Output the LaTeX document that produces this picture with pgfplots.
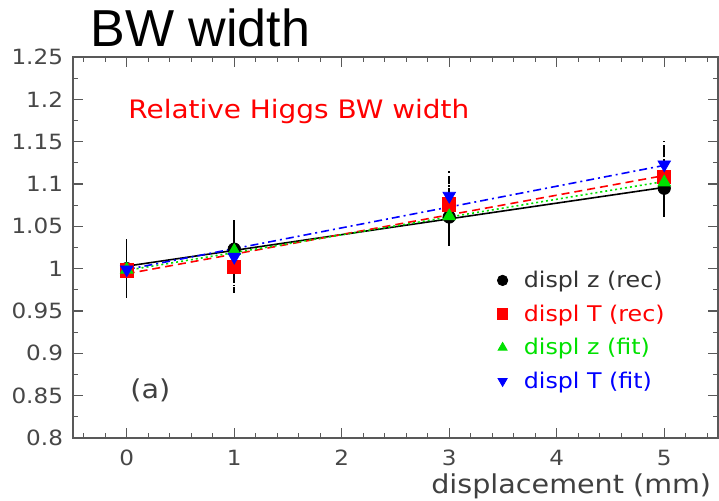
\documentclass[border=0pt]{standalone}
\usepackage{fontspec}
\setmainfont{DejaVu Sans}[FakeStretch=1.1]
\newfontfamily\arial{Liberation Sans}
\usepackage{pgfplots}
\pgfplotsset{compat=1.18}
\definecolor{frm}{gray}{0.35}
\definecolor{pawred}{RGB}{255,0,0}
\definecolor{pawgreen}{RGB}{0,225,0}
\definecolor{pawblue}{RGB}{0,0,255}

\begin{document}
\begin{tikzpicture}
\useasboundingbox (-36.5bp,-31.5bp) rectangle (323bp,219bp);
\begin{axis}[
  at={(0,0)}, anchor=south west,
  scale only axis, width=322.5bp, height=190.5bp,
  xmin=-0.5, xmax=5.5, ymin=0.8, ymax=1.25,
  xtick={0,1,2,3,4,5},
  minor xtick={-0.4,-0.2,0.2,0.4,0.6,0.8,1.2,1.4,1.6,1.8,2.2,2.4,2.6,2.8,3.2,3.4,3.6,3.8,4.2,4.4,4.6,4.8,5.2,5.4},
  ytick={0.8,0.85,0.9,0.95,1,1.05,1.1,1.15,1.2,1.25},
  minor y tick num=1,
  axis line style={frm, line width=0.75bp},
  every tick/.style={frm, line width=0.6bp},
  major tick length=5bp, minor tick length=2.5bp,
  tick label style={font=\fontsize{10.5bp}{12bp}\selectfont, text=black!72},
  /pgf/number format/assume math mode=true,
  yticklabel style={/pgf/number format/fixed, /pgf/number format/precision=2, xshift=-1.5bp},
  xticklabel style={yshift=-2.5bp},
  xlabel={displacement (mm)},
  xlabel style={at={(axis description cs:0.99,0)}, anchor=base east, yshift=-27.5bp,
    inner sep=0pt, font=\fontsize{13bp}{15bp}\selectfont, text=black!75},
  legend style={draw=none, fill=none, at={(0.6574,0.4383)}, anchor=north west,
    inner sep=0pt, row sep=5.8bp, column sep=8bp,
    font=\fontsize{10.8bp}{12bp}\selectfont,
    nodes={inner sep=0pt, text height=8bp, text depth=3bp}},
  legend cell align=left,
  legend image code/.code={\draw[mark repeat=2,mark phase=2,#1]
    plot coordinates {(0bp,1bp) (5bp,1bp) (10bp,1bp)};},
  legend image post style={mark size=2.6bp},
]
% fitted lines
\addplot[black, line width=0.8bp, forget plot] coordinates {(0,1.003) (5,1.096)};
\addplot[pawred, line width=0.8bp, dash pattern=on 4bp off 2.5bp, forget plot] coordinates {(0,0.994) (5,1.110)};
\addplot[pawgreen, line width=0.8bp, dash pattern=on 1bp off 1.5bp, forget plot] coordinates {(0,0.998) (5,1.103)};
\addplot[pawblue, line width=0.8bp, dash pattern=on 4bp off 2bp on 1bp off 2bp, forget plot] coordinates {(0,0.999) (5,1.122)};

% measured points
\addplot[black, only marks, mark=*, mark size=3.1bp,
  error bars/.cd, y dir=both, y explicit, error mark=none,
  error bar style={black, solid, line width=0.75bp}] coordinates {
  (0,1.000) +- (0,0.035)
  (1,1.023) +- (0,0.035)
  (3,1.061) +- (0,0.034)
  (5,1.095) +- (0,0.034)};
\addlegendentry{\textcolor{black!80}{displ z (rec)}}
\addplot[pawred, only marks, mark=square*, mark size=3.3bp,
  error bars/.cd, y dir=both, y explicit, error mark=none,
  error bar style={black, line width=0.75bp, dash pattern=on 3bp off 2bp}] coordinates {
  (0,0.998) +- (0,0.033)
  (1,1.002) +- (0,0.035)
  (3,1.076) +- (0,0.034)
  (5,1.108) +- (0,0.034)};
\addlegendentry{\textcolor{pawred}{displ T (rec)}}
\addplot[pawgreen, only marks, mark=triangle*, mark size=3.6bp,
  error bars/.cd, y dir=both, y explicit, error mark=none,
  error bar style={black, line width=0.75bp, dash pattern=on 1bp off 1.5bp}] coordinates {
  (0,0.999) +- (0,0.033)
  (1,1.021) +- (0,0.035)
  (3,1.062) +- (0,0.033)
  (5,1.102) +- (0,0.034)};
\addlegendentry{\textcolor{pawgreen}{displ z (fit)}}
\addplot[pawblue, only marks, mark=triangle*, mark options={rotate=180}, mark size=3.6bp,
  error bars/.cd, y dir=both, y explicit, error mark=none,
  error bar style={black, line width=0.75bp, dash pattern=on 3bp off 1.5bp on 1bp off 1.5bp}] coordinates {
  (0,0.999) +- (0,0.033)
  (1,1.014) +- (0,0.035)
  (3,1.086) +- (0,0.030)
  (5,1.123) +- (0,0.028)};
\addlegendentry{\textcolor{pawblue}{displ T (fit)}}
\end{axis}
\node[anchor=base west, inner sep=0pt, font=\arial\fontsize{26bp}{30bp}\selectfont] at (8.5bp,195.5bp) {BW width};
\node[anchor=base west, inner sep=0pt, text=pawred, font=\fontsize{12.7bp}{15bp}\selectfont] at (27.5bp,159.5bp) {Relative Higgs BW width};
\node[anchor=base west, inner sep=0pt, text=black!75, font=\fontsize{13bp}{15bp}\selectfont] at (28.5bp,20bp) {(a)};
\end{tikzpicture}
\end{document}
